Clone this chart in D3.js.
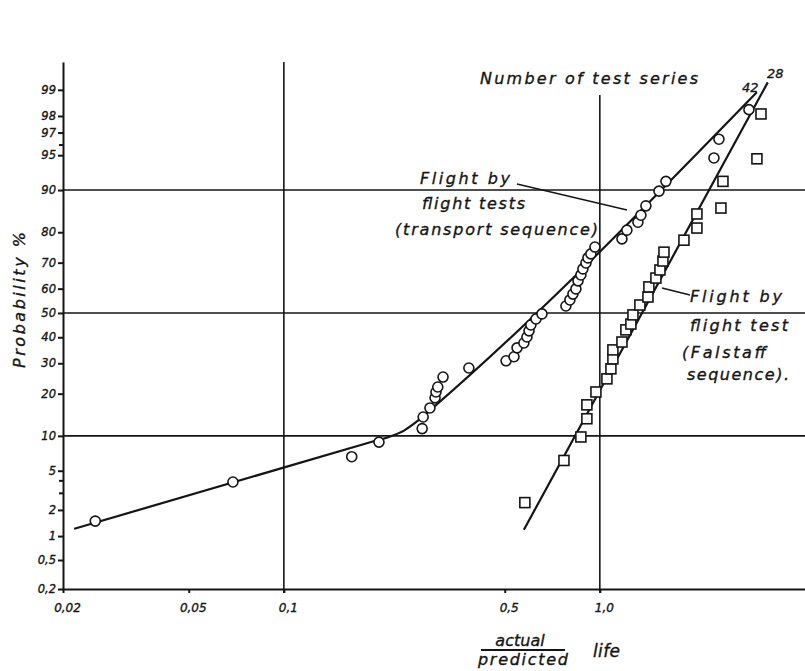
<!DOCTYPE html>
<html>
<head>
<meta charset="utf-8">
<title>Actual / predicted life - probability plot</title>
<style type="text/css">
	body { margin: 0; background: #fff; }
	svg { display: block; }
	text { font-family: "DejaVu Sans", sans-serif; font-style: italic; fill: #151515; stroke: #151515; stroke-width: 0.35; }
	.axis path, .axis line { stroke: #151515; stroke-width: 2; }
	.grid { stroke: #151515; stroke-width: 1.6; }
	.fit { fill: none; stroke: #151515; stroke-width: 2.2; }
	.mark { fill: #fff; stroke: #151515; stroke-width: 1.6; }
</style>
<script src="https://d3js.org/d3.v7.min.js"></script>
</head>
<body>
<script type="text/javascript">
	// axis ticks
	var xTicks = [0.02, 0.05, 0.1, 0.5, 1.0];
	var xTickLabels = ["0,02", "0,05", "0,1", "0,5", "1,0"];
	var yTicks = [0.2, 0.5, 1, 2, 5, 10, 20, 30, 40, 50, 60, 70, 80, 90, 95, 97, 98, 99];
	var yTickLabels = ["0,2", "0,5", "1", "2", "5", "10", "20", "30", "40", "50", "60", "70", "80", "90", "95", "97", "98", "99"];
	var yMinorTicks = [3, 4, 96];
	var xGrid = [0.1, 1.0];
	var yGrid = [10, 50, 90];

	// flight by flight tests (transport sequence), 42 series
	var transportX = [0.0253, 0.069, 0.164, 0.200, 0.274, 0.276, 0.290, 0.301, 0.303, 0.307, 0.319,
		0.385, 0.505, 0.535, 0.547, 0.575, 0.588, 0.597, 0.605, 0.628, 0.656,
		0.781, 0.804, 0.822, 0.840, 0.853, 0.871, 0.884, 0.904, 0.917, 0.937, 0.965,
		1.175, 1.218, 1.320, 1.349, 1.399, 1.539, 1.619, 2.297, 2.382, 2.964];
	var transportP = [1.5, 3.9, 6.7, 8.9, 11.4, 13.9, 16.1, 18.8, 20.5, 22.0, 25.2,
		28.3, 30.9, 32.4, 35.8, 37.7, 40.1, 42.6, 45.0, 47.5, 49.6,
		52.9, 55.4, 57.8, 59.9, 63.1, 65.4, 67.7, 69.9, 71.7, 73.1, 75.4,
		78.0, 80.6, 82.8, 84.6, 86.8, 89.8, 91.5, 94.7, 96.5, 98.3];

	// flight by flight test (Falstaff sequence), 28 series
	var falstaffX = [0.579, 0.770, 0.871, 0.910, 0.910, 0.972, 1.053, 1.084, 1.100, 1.100,
		1.175, 1.209, 1.254, 1.273, 1.339, 1.420, 1.430, 1.505, 1.550, 1.584,
		1.596, 1.846, 2.029, 2.029, 2.417, 2.453, 3.142, 3.236];
	var falstaffP = [2.4, 6.2, 9.8, 13.5, 16.9, 20.5, 24.6, 28.0, 31.6, 35.0,
		38.1, 43.0, 45.4, 49.2, 53.3, 56.6, 60.7, 64.2, 67.3, 70.6,
		73.7, 77.6, 81.2, 84.9, 86.3, 91.5, 94.6, 98.1];

	// fitted lines
	var transportFitX = [0.0217, 0.190, 0.215, 0.240, 0.265, 0.296, 3.14];
	var transportFitP = [1.22, 8.96, 9.8, 11.0, 13.0, 16.1, 98.93];
	var falstaffFitX = [0.575, 3.40];
	var falstaffFitP = [1.19, 99.19];

	// inverse normal cdf (Acklam)
	function probit(p) {
		var a = [-3.969683028665376e+01, 2.209460984245205e+02, -2.759285104469687e+02, 1.383577518672690e+02, -3.066479806614716e+01, 2.506628277459239e+00];
		var b = [-5.447609879822406e+01, 1.615858368580409e+02, -1.556989798598866e+02, 6.680131188771972e+01, -1.328068155288572e+01];
		var c = [-7.784894002430293e-03, -3.223964580411365e-01, -2.400758277161838e+00, -2.549732539343734e+00, 4.374664141464968e+00, 2.938163982698783e+00];
		var d = [7.784695709041462e-03, 3.224671290700398e-01, 2.445134137142996e+00, 3.754408661907416e+00];
		var pl = 0.02425, q, r;
		if (p < pl) {
			q = Math.sqrt(-2 * Math.log(p));
			return (((((c[0]*q+c[1])*q+c[2])*q+c[3])*q+c[4])*q+c[5]) / ((((d[0]*q+d[1])*q+d[2])*q+d[3])*q+1);
		}
		if (p > 1 - pl) {
			q = Math.sqrt(-2 * Math.log(1 - p));
			return -(((((c[0]*q+c[1])*q+c[2])*q+c[3])*q+c[4])*q+c[5]) / ((((d[0]*q+d[1])*q+d[2])*q+d[3])*q+1);
		}
		q = p - 0.5; r = q * q;
		return (((((a[0]*r+a[1])*r+a[2])*r+a[3])*r+a[4])*r+a[5])*q / (((((b[0]*r+b[1])*r+b[2])*r+b[3])*r+b[4])*r+1);
	}

	var svg = d3.select("body").append("svg")
		.attr("width", 805)
		.attr("height", 671);

	var x = d3.scaleLog().domain([0.02, 4.46]).range([63, 805]);
	var yz = d3.scaleLinear().domain([probit(0.002), probit(0.99556)]).range([589, 62]);
	function y(p) { return yz(probit(p / 100)); }

	var transport = transportX.map(function(v, i) { return {x: v, p: transportP[i]}; });
	var falstaff = falstaffX.map(function(v, i) { return {x: v, p: falstaffP[i]}; });
	var transportFit = transportFitX.map(function(v, i) { return {x: v, p: transportFitP[i]}; });
	var falstaffFit = falstaffFitX.map(function(v, i) { return {x: v, p: falstaffFitP[i]}; });

	// grid
	svg.selectAll(".hgrid").data(yGrid).enter().append("line")
		.attr("class", "grid")
		.attr("x1", x(0.02)).attr("x2", 805)
		.attr("y1", function(d) { return y(d); })
		.attr("y2", function(d) { return y(d); });

	svg.append("line").attr("class", "grid")
		.attr("x1", x(xGrid[0])).attr("x2", x(xGrid[0]))
		.attr("y1", yz.range()[1]).attr("y2", 593);
	svg.append("line").attr("class", "grid")
		.attr("x1", x(xGrid[1])).attr("x2", x(xGrid[1]))
		.attr("y1", 95).attr("y2", 593);

	// axes
	svg.append("g")
		.attr("class", "axis")
		.attr("transform", "translate(0,589)")
		.call(d3.axisBottom(x).tickValues(xTicks)
			.tickFormat(function(d, i) { return xTickLabels[i]; })
			.tickSize(4).tickSizeOuter(0))
		.call(function(g) {
			g.selectAll("text").attr("dy", "1.35em").attr("dx", 4)
				.style("font-size", "12px").style("font-family", null);
		});

	svg.append("g")
		.attr("class", "axis")
		.attr("transform", "translate(63,0)")
		.call(d3.axisLeft(yz).tickValues(yTicks.map(function(p) { return probit(p / 100); }))
			.tickFormat(function(d, i) { return yTickLabels[i]; })
			.tickSize(5).tickSizeOuter(0).tickPadding(2))
		.call(function(g) {
			g.selectAll("text").style("font-size", "11.5px").style("font-family", null);
		});

	svg.append("g")
		.attr("class", "axis")
		.selectAll("line").data(yMinorTicks).enter().append("line")
		.attr("x1", 59).attr("x2", 63)
		.attr("y1", function(d) { return y(d); })
		.attr("y2", function(d) { return y(d); });

	// fitted lines
	var line = d3.line()
		.x(function(d) { return x(d.x); })
		.y(function(d) { return y(d.p); })
		.curve(d3.curveMonotoneX);

	svg.append("path").datum(transportFit).attr("class", "fit").attr("d", line);
	svg.append("path").datum(falstaffFit).attr("class", "fit").attr("d", line);

	// markers
	svg.selectAll(".circ").data(transport).enter().append("circle")
		.attr("class", "mark")
		.attr("cx", function(d) { return x(d.x); })
		.attr("cy", function(d) { return y(d.p); })
		.attr("r", 5);

	svg.selectAll(".sq").data(falstaff).enter().append("rect")
		.attr("class", "mark")
		.attr("x", function(d) { return x(d.x) - 5; })
		.attr("y", function(d) { return y(d.p) - 5; })
		.attr("width", 10)
		.attr("height", 10);

	// annotations
	function note(tx, ty, str, len, size) {
		var t = svg.append("text").attr("x", tx).attr("y", ty)
			.style("font-size", (size || 16) + "px")
			.text(str);
		if (len) t.attr("textLength", len).attr("lengthAdjust", "spacing");
		return t;
	}

	// axis titles
	note(0, 0, "Probability  %", 136, 16)
		.attr("transform", "translate(25,300) rotate(-90)")
		.attr("text-anchor", "middle");

	note(520, 646, "actual", null, 16).attr("text-anchor", "middle");
	svg.append("line").attr("x1", 481).attr("x2", 565).attr("y1", 650).attr("y2", 650)
		.attr("stroke", "#151515").attr("stroke-width", 1.8);
	note(478, 665, "predicted", 90, 16);
	note(593, 657, "life", 27, 17);

	note(480, 84, "Number of test series", 218);
	note(742, 92, "42", null, 13);
	note(767, 78, "28", null, 13);

	note(420, 184, "Flight by", 90);
	note(422, 209, "flight tests", 103);
	note(395, 235, "(transport sequence)", 203);
	svg.append("line").attr("x1", 517).attr("y1", 184).attr("x2", 627).attr("y2", 210)
		.attr("stroke", "#151515").attr("stroke-width", 1.3);

	note(690, 302, "Flight by", 92);
	note(690, 331, "flight test", 98);
	note(682, 358, "(Falstaff", 84);
	note(687, 380, "sequence).", 102);
	svg.append("line").attr("x1", 662).attr("y1", 288).attr("x2", 690).attr("y2", 295)
		.attr("stroke", "#151515").attr("stroke-width", 1.3);
</script>
</body>
</html>
